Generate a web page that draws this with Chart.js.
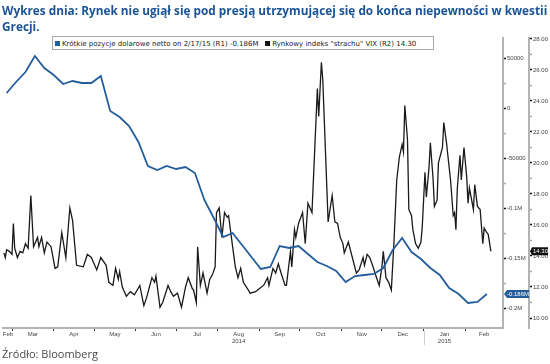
<!DOCTYPE html>
<html><head><meta charset="utf-8">
<script src="https://cdn.jsdelivr.net/npm/chart.js@4/dist/chart.umd.min.js"></script>
<style>
html,body{margin:0;padding:0;background:#fff;}
#wrap{position:relative;width:550px;height:364px;overflow:hidden;background:#fff;}
#title{position:absolute;left:2px;top:2px;font-family:'Open Sans',sans-serif;font-weight:700;font-size:13px;line-height:16px;color:#1b5396;white-space:nowrap;transform-origin:0 0;z-index:3;}
#src{position:absolute;left:2px;top:347px;font-family:'Open Sans',sans-serif;font-size:11px;line-height:14px;color:#4a4a4a;z-index:3;}
#legend{position:absolute;left:52px;top:36px;width:382px;height:14px;border:1px solid #a9a9a9;background:#fff;font-family:'DejaVu Sans',sans-serif;font-size:7px;line-height:14px;color:#222;white-space:nowrap;z-index:3;box-sizing:border-box;padding-left:2px;}
#legend span.sw{display:inline-block;width:5px;height:5px;margin-right:2px;vertical-align:0px;}
canvas{position:absolute;left:0;top:0;z-index:1;}
</style></head>
<body>
<div id="wrap">
  <div id="title">Wykres dnia: Rynek nie ugiął się pod presją utrzymującej się do końca niepewności w kwestii<br>Grecji.</div>
  <div id="legend"><span class="sw" style="background:#245d9c"></span>Krótkie pozycje dolarowe netto on 2/17/15 (R1) -0.186M&nbsp;&nbsp;&nbsp;<span class="sw" style="background:#111"></span>Rynkowy indeks "strachu" VIX (R2) 14.30</div>
  <canvas id="c" width="550" height="364"></canvas>
  <div id="src">Źródło: Bloomberg</div>
</div>
<script>
// x values: days since 2014-02-01
const monthBoundaryDays = [28,59,89,120,150,181,212,242,273,303,334,365];
const monthLabelDays = [25,43.5,74,104.5,135,165.5,196.5,227,257.5,288,318.5,349.5,379];
const monthLabels = [['Feb'],['Mar'],['Apr'],['May'],['Jun'],['Jul'],['Aug','2014'],['Sep'],['Oct'],['Nov'],['Dec'],['Jan','2015'],['Feb']];
const yearDividerDay = 334;

const cotDays = [24,31,38,45,52,59,66,73,80,87,94,101,108,115,122,129,136,143,150,157,164,171,178,185,192,199,206,213,220,227,234,241,248,255,262,269,276,283,290,297,304,311,318,325,332,339,346,353,360,367,374,381];
const cotValues = [15000,26000,36000,52000,40000,33000,24000,27000,25000,25000,32000,-3000,-9000,-18000,-34000,-58000,-62000,-58000,-61000,-59000,-65000,-92000,-110000,-129000,-125000,-137000,-149000,-161000,-159000,-138000,-140000,-138000,-146000,-154000,-158000,-163000,-174000,-168000,-167000,-166000,-160000,-142000,-130000,-144000,-151000,-160000,-167000,-180000,-186000,-195000,-194000,-186000];

const vixDays = [22,23,24,26,28,29,30,32,34,36,38,40,42,44,47,48,50,52,54,57,60,62,65,68,71,73,76,81,84,87,91,94,98,100,103,105,107,108,110,113,116,119,123,126,128,132,134,135,138,140,144,146,148,151,154,157,159,162,163,165,166,168,170,173,175,177,179,180,182,184,186,188,189,192,194,196,198,200,203,205,209,212,215,218,219,222,224,226,228,231,232,235,236,238,239,241,244,246,248,251,255,256,258,259,263,266,268,270,272,274,275,278,281,284,286,289,290,292,294,296,299,301,303,304,306,308,310,312,314,316,318,319,320,322,323,325,326,328,330,332,333,335,336,338,339,341,342,344,345,348,349,351,354,356,357,358,359,361,362,364,366,367,368,371,372,374,376,378,379,381,382,384];
const vixValues = [14.2,13.9,14.4,14.3,14.1,16.1,14.5,13.9,14.3,14.2,14.8,14.5,17.9,14.6,15.2,14.6,15.2,14.2,14.9,14.6,13.2,13.3,15.5,13.9,17.1,16.3,13.4,13.3,14.1,13.9,13.1,13.9,13.4,12.3,12.1,13.2,12.5,13.0,12.0,11.4,11.7,11.5,12.1,10.8,11.3,12.6,12.3,12.7,10.7,11.0,12.1,11.7,11.4,11.6,10.7,12.0,12.6,11.9,11.8,11.0,14.6,12.1,12.9,11.6,12.5,12.8,13.3,16.8,17.1,15.2,16.8,16.5,16.6,14.6,13.3,12.6,13.2,12.3,11.9,11.6,11.7,11.9,12.1,12.6,12.1,13.2,12.9,13.5,12.9,12.1,12.1,14.3,13.3,15.7,15.2,16.1,16.8,14.8,17.4,16.8,24.8,23.0,26.5,25.4,16.2,17.9,16.2,16.1,15.2,14.8,14.2,14.9,13.9,12.9,13.1,13.9,13.4,14.1,13.9,13.4,12.6,12.1,13.3,14.3,12.6,12.3,11.8,15.0,18.9,20.4,21.2,20.7,23.7,21.5,17.0,16.6,15.7,14.8,14.5,14.9,15.9,19.4,17.8,19.7,21.3,19.0,17.2,17.6,20.0,21.0,22.6,21.3,18.9,16.6,16.8,15.7,18.3,20.5,18.9,21.0,19.1,17.4,18.4,17.0,18.6,17.2,17.0,14.8,15.8,15.5,15.4,14.3];

const r1TickValues = [-200000,-175000,-150000,-125000,-100000,-75000,-50000,-25000,0,25000,50000];
const r1TickLabels = {'-200000':'-0.2M','-150000':'-0.15M','-100000':'-0.1M','-50000':'-50000','0':'0','50000':'50000'};
const r2TickValues = [10,11,12,13,14,15,16,17,18,19,20,21,22,23,24,25,26,27,28];

const BLUE = '#245d9c';

// fit title width
const t = document.getElementById('title');
const tw = t.scrollWidth;
t.style.transform = 'scaleX(' + (545 / tw) + ')';

const tagPlugin = {
  id: 'tags',
  afterDraw(chart) {
    const c = chart.ctx;
    const y1 = chart.scales.y1, y2 = chart.scales.y2, x = chart.scales.x;
    c.save();
    // year divider below the axis
    const dx = Math.round(x.getPixelForValue(yearDividerDay)) + 0.5;
    c.strokeStyle = '#cfcfcf';
    c.lineWidth = 1;
    c.beginPath();
    c.moveTo(dx, x.top + 3);
    c.lineTo(dx, x.top + 17);
    c.stroke();

    c.font = '6px "Liberation Sans", Arial, sans-serif';
    c.textBaseline = 'middle';
    // blue last value tag
    const lastCot = cotValues[cotValues.length - 1];
    let py = y1.getPixelForValue(lastCot);
    let x0 = y1.left;
    c.fillStyle = BLUE;
    c.beginPath();
    c.moveTo(x0 + 1, py);
    c.lineTo(x0 + 4, py - 4);
    c.lineTo(x0 + 26, py - 4);
    c.lineTo(x0 + 26, py + 4);
    c.lineTo(x0 + 4, py + 4);
    c.closePath();
    c.fill();
    c.fillStyle = '#fff';
    c.fillText((lastCot / 1e6).toFixed(3) + 'M', x0 + 4, py + 0.5);
    // black last value tag
    const lastVix = vixValues[vixValues.length - 1];
    py = y2.getPixelForValue(lastVix);
    x0 = y2.left;
    c.fillStyle = '#111';
    c.beginPath();
    c.moveTo(x0 + 1, py);
    c.lineTo(x0 + 3, py - 4);
    c.lineTo(x0 + 19, py - 4);
    c.lineTo(x0 + 19, py + 4);
    c.lineTo(x0 + 3, py + 4);
    c.closePath();
    c.fill();
    c.fillStyle = '#fff';
    c.fillText(lastVix.toFixed(2), x0 + 4, py + 0.5);
    c.restore();
  }
};

const tickFont = {family: '"Liberation Sans", Arial, sans-serif', size: 6};

new Chart(document.getElementById('c'), {
  type: 'line',
  data: {
    datasets: [
      {
        label: 'Krótkie pozycje dolarowe netto on 2/17/15 (R1) -0.186M',
        data: cotDays.map((d, i) => ({x: d, y: cotValues[i]})),
        yAxisID: 'y1', borderColor: BLUE, borderWidth: 1.8, pointRadius: 0, tension: 0, fill: false
      },
      {
        label: 'Rynkowy indeks "strachu" VIX (R2) 14.30',
        data: vixDays.map((d, i) => ({x: d, y: vixValues[i]})),
        yAxisID: 'y2', borderColor: '#1a1a1a', borderWidth: 1.3, pointRadius: 0, tension: 0, fill: false
      }
    ]
  },
  options: {
    responsive: false, animation: false,
    layout: {padding: {left: 3, right: 0, top: 38, bottom: 16}},
    plugins: {legend: {display: false}, tooltip: {enabled: false}},
    scales: {
      x: {
        type: 'linear', min: 21.3, max: 393,
        afterBuildTicks(s) {
          s.ticks = monthBoundaryDays.concat(monthLabelDays).sort((a, b) => a - b).map(v => ({value: v}));
        },
        afterFit(s) { s.height = 20; },
        ticks: {
          autoSkip: false, maxRotation: 0, minRotation: 0, padding: 0, color: '#444', font: tickFont,
          callback(v) { const i = monthLabelDays.indexOf(v); return i >= 0 ? monthLabels[i] : ''; }
        },
        grid: {
          drawOnChartArea: false, drawTicks: true, tickLength: 3, tickWidth: 1,
          tickColor(ctx) { return ctx.tick && monthBoundaryDays.includes(ctx.tick.value) ? '#333' : 'rgba(0,0,0,0)'; }
        },
        border: {display: true, color: '#b3b3b3', width: 2}
      },
      y1: {
        position: 'right', weight: 1, min: -220000, max: 70000,
        afterBuildTicks(s) { s.ticks = r1TickValues.map(v => ({value: v})); },
        afterFit(s) { s.width = 26; },
        ticks: {
          padding: 1, color: '#444', font: tickFont, align: 'center',
          callback(v) { return r1TickLabels[String(v)] !== undefined ? r1TickLabels[String(v)] : ''; }
        },
        grid: {
          drawOnChartArea: false, drawTicks: true, tickLength: 3, tickWidth: 1.5,
          tickColor(ctx) { return ctx.tick && r1TickLabels[String(ctx.tick.value)] !== undefined ? '#111' : '#aaa'; }
        },
        border: {display: true, color: '#b3b3b3', width: 2}
      },
      y2: {
        position: 'right', weight: 2, min: 9.355, max: 28.06,
        afterBuildTicks(s) { s.ticks = r2TickValues.map(v => ({value: v})); },
        afterFit(s) { s.width = 21; },
        ticks: {
          padding: 1, color: '#444', font: tickFont,
          callback(v) { return v % 2 === 0 ? v.toFixed(2) : ''; }
        },
        grid: {
          drawOnChartArea: false, drawTicks: true, tickLength: 3, tickWidth: 1.5,
          tickColor(ctx) { return ctx.tick && ctx.tick.value % 2 === 0 ? '#111' : '#aaa'; }
        },
        border: {display: true, color: '#b3b3b3', width: 2}
      }
    }
  },
  plugins: [tagPlugin]
});
</script>
</body></html>
